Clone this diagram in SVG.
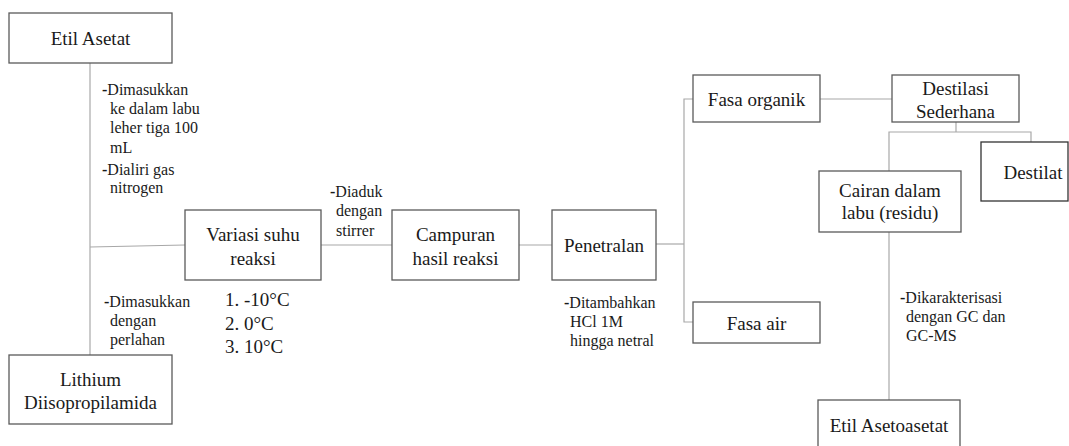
<svg xmlns="http://www.w3.org/2000/svg" width="1069" height="446" viewBox="0 0 1069 446">
<style>
.box{fill:#fff;stroke:#5a5a5a;stroke-width:1.3}
.ln{fill:none;stroke:#a8a8a8;stroke-width:1.2}
.t{font-family:"Liberation Serif","Times New Roman",serif;font-size:19px;fill:#1a1a1a;text-anchor:middle}
.n{font-family:"Liberation Serif","Times New Roman",serif;font-size:16px;fill:#1a1a1a}
.l{font-family:"Liberation Serif","Times New Roman",serif;font-size:19px;fill:#1a1a1a}
.d{font-weight:bold}
</style>
<rect width="1069" height="446" fill="#fff"/>
<g id="connectors">
<path class="ln" d="M90,63 V355"/>
<path class="ln" d="M90,247 L185,245"/>
<path class="ln" d="M321,245 H392"/>
<path class="ln" d="M519,245 H552"/>
<path class="ln" d="M656,244 H684"/>
<path class="ln" d="M693,99 H684 V322 H693"/>
<path class="ln" d="M820,99 H892"/>
<path class="ln" d="M956,122 V132 M889,171 V132 H1031 V142"/>
<path class="ln" d="M889,232 V400"/>
</g>
<g id="etil-asetat"><rect class="box" x="9" y="13" width="163" height="50"/><text class="t" x="90.5" y="45">Etil Asetat</text></g>
<g id="lithium"><rect class="box" x="9" y="355" width="163" height="69"/><text class="t" x="90.5" y="386">Lithium</text><text class="t" x="90.5" y="409">Diisopropilamida</text></g>
<g id="variasi"><rect class="box" x="185" y="210" width="136" height="70"/><text class="t" x="253" y="241">Variasi suhu</text><text class="t" x="253" y="265">reaksi</text></g>
<g id="campuran"><rect class="box" x="392" y="210" width="127" height="70"/><text class="t" x="455.5" y="241">Campuran</text><text class="t" x="455.5" y="265">hasil reaksi</text></g>
<g id="penetralan"><rect class="box" x="552" y="210" width="104" height="70"/><text class="t" x="604" y="252">Penetralan</text></g>
<g id="fasa-organik"><rect class="box" x="693" y="75" width="127" height="47"/><text class="t" x="756.5" y="106">Fasa organik</text></g>
<g id="fasa-air"><rect class="box" x="693" y="302" width="127" height="41"/><text class="t" x="756.5" y="330">Fasa air</text></g>
<g id="destilasi"><rect class="box" x="892" y="75" width="127" height="47"/><text class="t" x="955.5" y="95">Destilasi</text><text class="t" x="955.5" y="118">Sederhana</text></g>
<g id="destilat"><rect class="box" x="981" y="142" width="87" height="59" style="stroke:#333"/><text class="t" x="1033" y="179">Destilat</text></g>
<g id="cairan"><rect class="box" x="819" y="171" width="142" height="61"/><text class="t" x="890" y="197">Cairan dalam</text><text class="t" x="890" y="219">labu (residu)</text></g>
<g id="etil-asetoasetat"><rect class="box" x="818" y="400" width="142" height="60"/><text class="t" x="889" y="432">Etil Asetoasetat</text></g>
<g id="notes">
<text class="n" x="102" y="95"><tspan class="d">-</tspan>Dimasukkan</text>
<text class="n" x="110" y="114">ke dalam labu</text>
<text class="n" x="110" y="133">leher tiga 100</text>
<text class="n" x="110" y="153">mL</text>
<text class="n" x="102" y="175"><tspan class="d">-</tspan>Dialiri gas</text>
<text class="n" x="110" y="193">nitrogen</text>
<text class="n" x="330" y="197"><tspan class="d">-</tspan>Diaduk</text>
<text class="n" x="336" y="216">dengan</text>
<text class="n" x="336" y="236">stirrer</text>
<text class="n" x="104" y="307"><tspan class="d">-</tspan>Dimasukkan</text>
<text class="n" x="110" y="326">dengan</text>
<text class="n" x="110" y="345">perlahan</text>
<text class="l" x="225" y="306">1. -10°C</text>
<text class="l" x="225" y="330">2. 0°C</text>
<text class="l" x="225" y="353">3. 10°C</text>
<text class="n" x="564" y="308"><tspan class="d">-</tspan>Ditambahkan</text>
<text class="n" x="570" y="327">HCl 1M</text>
<text class="n" x="570" y="346">hingga netral</text>
<text class="n" x="900" y="303"><tspan class="d">-</tspan>Dikarakterisasi</text>
<text class="n" x="906" y="322">dengan GC dan</text>
<text class="n" x="906" y="341">GC-MS</text>
</g>
</svg>
